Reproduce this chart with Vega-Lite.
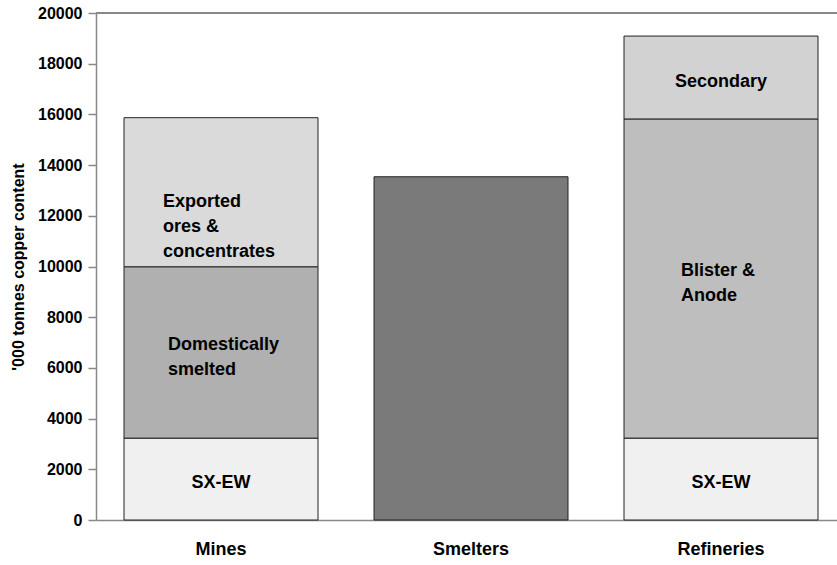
{
  "$schema": "https://vega.github.io/schema/vega-lite/v6.json",
  "autosize": "none",
  "width": 741,
  "height": 507,
  "padding": {"left": 96, "top": 13, "right": 0, "bottom": 45},
  "background": "white",
  "view": {"stroke": null},
  "config": {"font": "Liberation Sans"},
  "data": {"values": [
    {"stage": "Mines", "segment": "SX-EW", "label": "SX-EW", "order": 1, "value": 3230},
    {"stage": "Mines", "segment": "Domestically smelted", "label": "Domestically\nsmelted", "order": 2, "value": 6760},
    {"stage": "Mines", "segment": "Exported ores & concentrates", "label": "Exported\nores &\nconcentrates", "order": 3, "value": 5880},
    {"stage": "Smelters", "segment": "Smelter output", "label": "", "order": 1, "value": 13540},
    {"stage": "Refineries", "segment": "SX-EW", "label": "SX-EW", "order": 1, "value": 3230},
    {"stage": "Refineries", "segment": "Blister & Anode", "label": "Blister &\nAnode", "order": 2, "value": 12590},
    {"stage": "Refineries", "segment": "Secondary", "label": "Secondary", "order": 3, "value": 3270}
  ]},
  "transform": [
    {"stack": "value", "groupby": ["stage"], "sort": [{"field": "order", "order": "ascending"}], "as": ["y0", "y1"]},
    {"calculate": "(datum.y0 + datum.y1) / 2", "as": "mid"}
  ],
  "layer": [
    {
      "mark": {"type": "rule", "color": "#888888", "strokeWidth": 1.5},
      "encoding": {"y": {"datum": 20000, "type": "quantitative"}}
    },
    {
      "mark": {"type": "bar", "stroke": "#222222", "strokeWidth": 1},
      "encoding": {
        "x": {"field": "stage", "type": "nominal", "sort": ["Mines", "Smelters", "Refineries"],
          "scale": {"paddingInner": 0.224, "paddingOuter": 0.094, "align": 0.596},
          "axis": {"title": null, "labelAngle": 0, "labelFontSize": 18, "labelFontWeight": "bold", "labelColor": "#000000",
            "labelPadding": 20, "ticks": false, "domainColor": "#888888", "domainWidth": 1.5}},
        "y": {"field": "y1", "type": "quantitative",
          "scale": {"domain": [0, 20000], "nice": false},
          "axis": {"title": "'000 tonnes copper content", "titleFontSize": 16, "titleFontWeight": "bold", "titleColor": "#000000",
            "titlePadding": 11, "values": [0, 2000, 4000, 6000, 8000, 10000, 12000, 14000, 16000, 18000, 20000],
            "format": "d", "labelFontSize": 16, "labelFontWeight": "bold", "labelColor": "#000000", "labelPadding": 6,
            "tickSize": 8, "tickColor": "#888888", "tickWidth": 1.5, "domainColor": "#888888", "domainWidth": 1.5, "grid": false}},
        "y2": {"field": "y0"},
        "color": {"field": "segment", "type": "nominal", "legend": null,
          "scale": {"domain": ["SX-EW", "Domestically smelted", "Exported ores & concentrates", "Smelter output", "Blister & Anode", "Secondary"],
            "range": ["#f0f0f0", "#b0b0b0", "#dadada", "#7a7a7a", "#bebebe", "#d2d2d2"]}}
      }
    },
    {
      "transform": [{"filter": "datum.segment == 'Exported ores & concentrates'"}],
      "mark": {"type": "text", "align": "left", "baseline": "middle", "dx": -58, "dy": 10, "fontSize": 18, "fontWeight": "bold", "lineBreak": "\n", "lineHeight": 25, "color": "#000000"},
      "encoding": {"x": {"field": "stage", "type": "nominal", "sort": ["Mines", "Smelters", "Refineries"]}, "y": {"field": "mid", "type": "quantitative"}, "text": {"field": "label"}}
    },
    {
      "transform": [{"filter": "datum.segment == 'Domestically smelted'"}],
      "mark": {"type": "text", "align": "left", "baseline": "middle", "dx": -53, "dy": -7, "fontSize": 18, "fontWeight": "bold", "lineBreak": "\n", "lineHeight": 25, "color": "#000000"},
      "encoding": {"x": {"field": "stage", "type": "nominal", "sort": ["Mines", "Smelters", "Refineries"]}, "y": {"field": "mid", "type": "quantitative"}, "text": {"field": "label"}}
    },
    {
      "transform": [{"filter": "datum.segment == 'Blister & Anode'"}],
      "mark": {"type": "text", "align": "left", "baseline": "middle", "dx": -40, "dy": -8, "fontSize": 18, "fontWeight": "bold", "lineBreak": "\n", "lineHeight": 25, "color": "#000000"},
      "encoding": {"x": {"field": "stage", "type": "nominal", "sort": ["Mines", "Smelters", "Refineries"]}, "y": {"field": "mid", "type": "quantitative"}, "text": {"field": "label"}}
    },
    {
      "transform": [{"filter": "datum.segment == 'SX-EW' || datum.segment == 'Secondary'"}],
      "mark": {"type": "text", "align": "center", "baseline": "middle", "dy": 4, "fontSize": 18, "fontWeight": "bold", "color": "#000000"},
      "encoding": {"x": {"field": "stage", "type": "nominal", "sort": ["Mines", "Smelters", "Refineries"]}, "y": {"field": "mid", "type": "quantitative"}, "text": {"field": "label"}}
    }
  ]
}
